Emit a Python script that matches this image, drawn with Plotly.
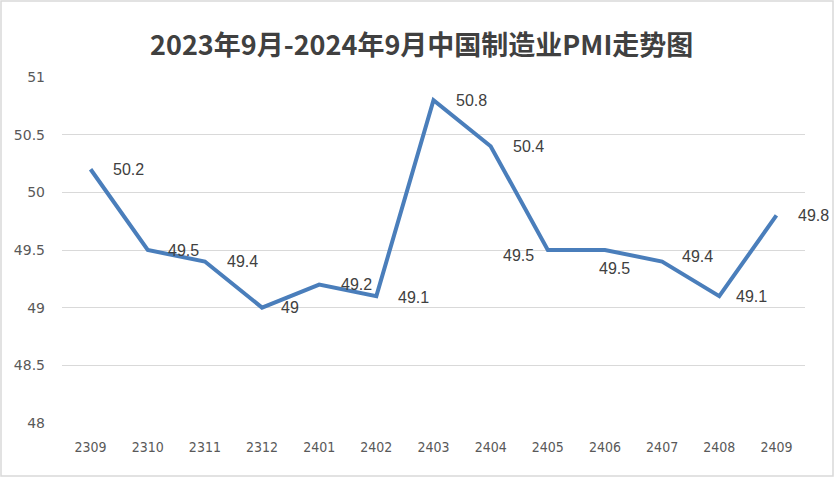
import plotly.graph_objects as go

months = ["2309", "2310", "2311", "2312", "2401", "2402", "2403",
          "2404", "2405", "2406", "2407", "2408", "2409"]
pmi = [50.2, 49.5, 49.4, 49.0, 49.2, 49.1, 50.8, 50.4, 49.5, 49.5, 49.4, 49.1, 49.8]
labels = ["50.2", "49.5", "49.4", "49", "49.2", "49.1", "50.8",
          "50.4", "49.5", "49.5", "49.4", "49.1", "49.8"]
y_ticks = [48, 48.5, 49, 49.5, 50, 50.5, 51]
y_ticktext = ["48", "48.5", "49", "49.5", "50", "50.5", "51"]

# label placement offsets (pixels) relative to each point
label_dx = [20, 18, 20, 17, 20, 20, 20, 20, -12, -8, 18, 15, 20]
label_dy = [0, 0, 0, 0, 0, -1, 0, 0, -5, -18, 5, 0, 0]
label_anchor = ["left", "left", "left", "left", "left", "left", "left",
                "left", "right", "left", "left", "left", "left"]

fig = go.Figure()
fig.add_trace(go.Scatter(
    x=months, y=pmi, mode="lines",
    line=dict(color="#4a7ebb", width=4),
    hoverinfo="x+y", showlegend=False,
))

for i, (v, t, dx, dy, a) in enumerate(zip(pmi, labels, label_dx, label_dy, label_anchor)):
    fig.add_annotation(
        x=i, y=v, text=t, showarrow=False,
        xanchor=a, yanchor="middle", xshift=dx, yshift=dy,
        font=dict(family="Liberation Sans, Arial, sans-serif", size=16, color="#404040"),
    )

fig.update_layout(
    width=835, height=480,
    paper_bgcolor="white", plot_bgcolor="white",
    margin=dict(l=62, r=30, t=77, b=57),
    title=dict(
        text="<b>2023年9月-2024年9月中国制造业PMI走势图</b>",
        x=0.505, xanchor="center", y=0.906, yanchor="middle",
        font=dict(family="Noto Sans CJK SC, sans-serif", size=27, color="#404040"),
    ),
    xaxis=dict(
        type="category", range=[-0.5, 12.5],
        showgrid=False, showline=False, zeroline=False,
        ticks="", ticklabelstandoff=14,
        tickfont=dict(family="Liberation Sans Narrow, DejaVu Sans Condensed, Liberation Sans, sans-serif",
                      size=14, color="#595959"),
    ),
    yaxis=dict(
        range=[48, 51], tickvals=y_ticks, ticktext=y_ticktext,
        showgrid=True, gridcolor="#d9d9d9", gridwidth=1,
        showline=False, zeroline=False, ticks="", ticklabelstandoff=16,
        tickfont=dict(family="DejaVu Sans, Liberation Sans, sans-serif", size=14, color="#595959"),
    ),
    shapes=[dict(
        type="rect", xref="paper", yref="paper",
        x0=-61/743, x1=1 + 28/743, y0=-53/346, y1=1 + 76/346,
        line=dict(color="#d9d9d9", width=1.5), fillcolor="rgba(0,0,0,0)",
        layer="below",
    )],
)

fig.write_html("out.html", config={"displayModeBar": False},
               post_script="document.body.style.margin='0';")
